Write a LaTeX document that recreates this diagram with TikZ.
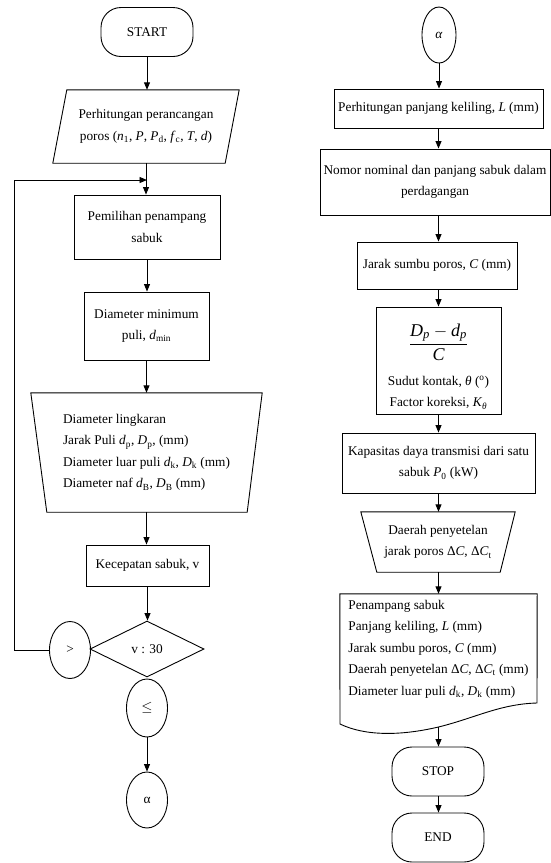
\documentclass[tikz,border=0pt]{standalone}
\usepackage{amsmath}
\usepackage{fontspec}
\setmainfont{Liberation Serif}
\usetikzlibrary{shapes.geometric,arrows.meta,calc}
\newcommand\iv[1]{\textit{#1}}
\newcommand\sbs[1]{\textsubscript{#1}}
\begin{document}
\begin{tikzpicture}[x=1pt,y=-1pt,
  every node/.style={font=\fontsize{13.3}{21.5}\selectfont, inner sep=2pt},
  line/.style={line width=0.9pt},
  arr/.style={line width=0.9pt,-{Triangle[length=7.5pt,width=6pt]}},
  boxs/.style={draw,line width=0.9pt,rectangle,align=center,inner sep=2pt},
  term/.style={draw,line width=0.9pt,rectangle,rounded corners=20pt,minimum width=92pt,minimum height=49pt},
  ell/.style={draw,line width=0.9pt,ellipse,inner sep=0pt,minimum width=41pt,minimum height=57pt},
  ghost/.style={rectangle,inner sep=0pt,align=center},
]
\useasboundingbox (0,0) rectangle (551,863);

% ---------- left column ----------
\node[term] (start) at (147,32) {START};
\node[ghost, minimum width=186pt, minimum height=73pt] (p1) at (146,126.5)
  {Perhitungan perancangan\\poros (\iv{n}\sbs{1}, \iv{P}, \iv{P}\sbs{d}, \iv{f}\sbs{c}, \iv{T}, \iv{d})};
\draw[line] ($(p1.north west)+(14,0)$) -- (p1.north east) -- ($(p1.south east)+(-14,0)$) -- (p1.south west) -- cycle;

\node[boxs, minimum width=146pt, minimum height=64pt] (b2) at (147,227) {Pemilihan penampang\\sabuk};
\node[boxs, minimum width=125pt, minimum height=68pt] (b3) at (146.5,326) {Diameter minimum\\puli, \iv{d}\sbs{min}};

\node[ghost, minimum width=231pt, minimum height=119pt, align=left] (p4) at (146.5,452.5)
  {Diameter lingkaran\\Jarak Puli \iv{d}\sbs{p}, \iv{D}\sbs{p}, (mm)\\Diameter luar puli \iv{d}\sbs{k}, \iv{D}\sbs{k} (mm)\\Diameter naf \iv{d}\sbs{B}, \iv{D}\sbs{B} (mm)};
\draw[line] (p4.north west) -- (p4.north east) -- ($(p4.south east)+(-15,0)$) -- ($(p4.south west)+(16,0)$) -- cycle;

\node[boxs, minimum width=123pt, minimum height=41pt] (b5) at (147.5,565.5) {Kecepatan sabuk, v};
\node[draw, line width=0.9pt, diamond, minimum width=114pt, minimum height=56pt, inner sep=0pt] (d6) at (147,649) {v : 30};
\node[ell] (e7) at (70,650) {>};
\node[ell, minimum height=58pt] (e8) at (147,708) {$\leq$};
\node[ell, minimum height=56pt] (e9) at (147,800) {α};

\coordinate (lp) at (14,650);
\coordinate (lq) at (14,180);
\coordinate (mg) at (147,180);

\draw[arr] (start.south) -- (start.south |- p1.north);
\draw[arr] (p1.south) -- (p1.south |- b2.north);
\draw[arr] (e7.west) -- (lp) -- (lq) -- (mg);
\draw[arr] (b2.south) -- (b2.south |- b3.north);
\draw[arr] (b3.south) -- (b3.south |- p4.north);
\draw[arr] (p4.south) -- (p4.south |- b5.north);
\draw[arr] (b5.south) -- (b5.south |- d6.north);
\draw[arr] (e8.south) -- (e9.north);

% ---------- right column ----------
\node[ell, minimum width=34pt, minimum height=56pt] (a2) at (439,35) {\iv{α}};
\node[boxs, minimum width=209pt, minimum height=39pt] (r1) at (438.5,108.5) {Perhitungan panjang keliling, \iv{L} (mm)};
\node[boxs, minimum width=230pt, minimum height=66pt, inner sep=1pt] (r2) at (435,182) {Nomor nominal dan panjang sabuk dalam\\perdagangan};
\node[boxs, minimum width=160pt, minimum height=47pt] (r3) at (437,265.5) {Jarak sumbu poros, \iv{C} (mm)};
\node[boxs, minimum width=125pt, minimum height=107pt] (r4) at (438.5,360.5) {};
\node[ghost] (r4f) at (438.5,342)
  {\fontsize{18}{22}\selectfont$\displaystyle\frac{\textit{D}_{\textit{p}}-\textit{d}_{\textit{p}}}{\textit{C}}$};
\node[ghost] (r4t) at (438.5,392.5)
  {Sudut kontak, \iv{θ} (\textsuperscript{o})\\Factor koreksi, \iv{K}\sbs{\iv{θ}}};
\node[boxs, minimum width=193pt, minimum height=60pt] (r5) at (438.5,463) {Kapasitas daya transmisi dari satu\\sabuk \iv{P}\sbs{0} (kW)};

\node[ghost, minimum width=154pt, minimum height=60pt] (r6) at (438,542) {Daerah penyetelan\\jarak poros Δ\iv{C}, Δ\iv{C}\sbs{t}};
\draw[line] (r6.north west) -- (r6.north east) -- ($(r6.south east)+(-15,0)$) -- ($(r6.south west)+(16,0)$) -- cycle;

\node[ghost, minimum width=197pt, minimum height=110pt, align=left] (r7) at (438.5,649)
  {Penampang sabuk\\Panjang keliling, \iv{L} (mm)\\Jarak sumbu poros, \iv{C} (mm)\\Daerah penyetelan Δ\iv{C}, Δ\iv{C}\sbs{t} (mm)\\Diameter luar puli \iv{d}\sbs{k}, \iv{D}\sbs{k} (mm)};
\coordinate (r7b) at (438.5,727);
\draw[line] (r7.north west) -- (r7.north east) -- (537,703) .. controls (500,704) and (475,718) .. (r7b) .. controls (400,736) and (365,736) .. (340,724) -- cycle;

\node[term] (stop) at (438,771.5) {STOP};
\node[term] (end) at (438,837.5) {END};

\draw[arr] (a2.south) -- (a2.south |- r1.north);
\draw[arr] (r1.south) -- (r1.south |- r2.north);
\draw[arr] (r2.south -| r1.south) -- (r1.south |- r3.north);
\draw[arr] (r3.south -| r1.south) -- (r1.south |- r4.north);
\draw[arr] (r4.south) -- (r4.south |- r5.north);
\draw[arr] (r5.south) -- (r5.south |- r6.north);
\draw[arr] (r6.south -| r5.south) -- (r5.south |- r7.north);
\draw[arr] (r7b) -- (r7b |- stop.north);
\draw[arr] (stop.south -| r7b) -- (r7b |- end.north);
\end{tikzpicture}
\end{document}
